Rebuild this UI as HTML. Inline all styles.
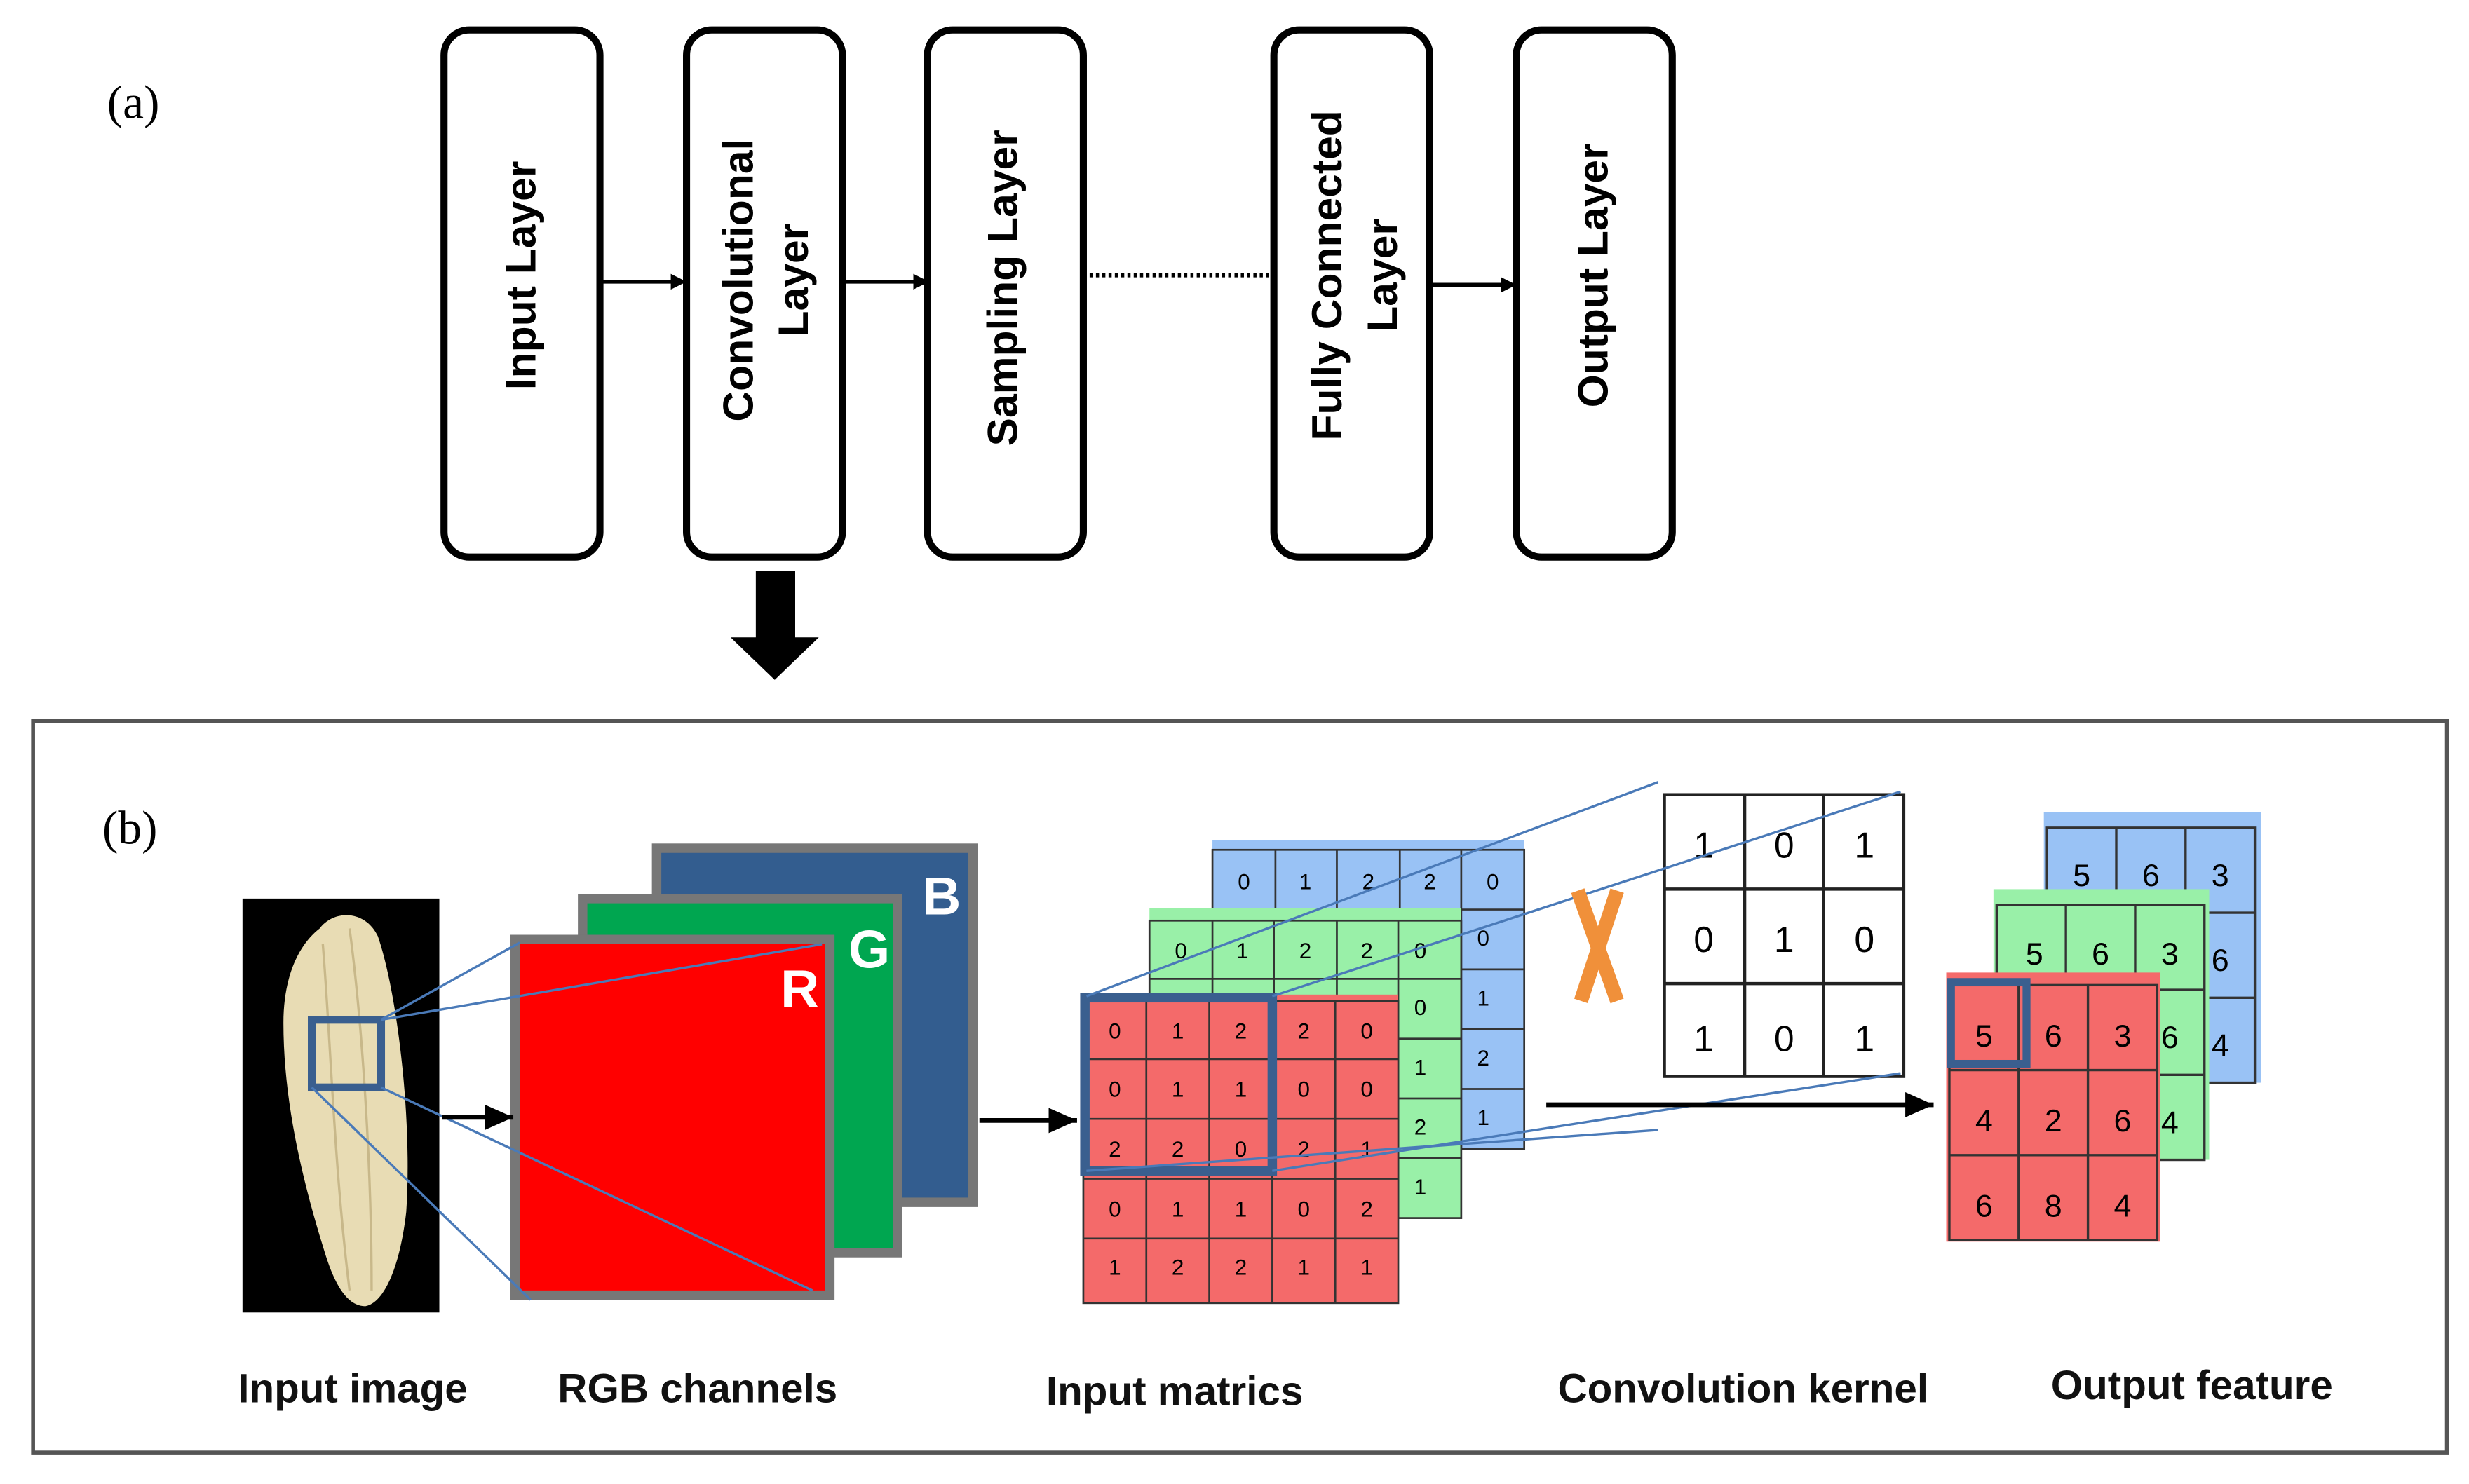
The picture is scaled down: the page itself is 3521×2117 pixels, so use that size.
<!DOCTYPE html>
<html><head><meta charset="utf-8"><style>
html,body{margin:0;padding:0;background:#fff;}
svg{display:block;}
</style></head><body>
<svg width="3521" height="2117" viewBox="0 0 1568 943" preserveAspectRatio="none" xmlns="http://www.w3.org/2000/svg">
<defs>
<marker id="ah" markerWidth="10" markerHeight="10" refX="9" refY="5" orient="auto" markerUnits="userSpaceOnUse"><path d="M0,0 L10,5 L0,10 Z" fill="#000"/></marker>
<marker id="ah2" markerWidth="20" markerHeight="20" refX="18" refY="10" orient="auto" markerUnits="userSpaceOnUse"><path d="M0,2 L18,10 L0,18 Z" fill="#000"/></marker>
</defs>
<rect width="1568" height="943" fill="#fff"/>
<text x="68" y="75" font-family="Liberation Serif, serif" font-size="30">(a)</text>
<g fill="#fff" stroke="#000" stroke-width="4.5">
<rect x="282" y="19" width="99" height="335" rx="16"/>
<rect x="436" y="19" width="99" height="335" rx="16"/>
<rect x="589" y="19" width="99" height="335" rx="16"/>
<rect x="809" y="19" width="99" height="335" rx="16"/>
<rect x="963" y="19" width="99" height="335" rx="16"/>
</g>
<g font-family="Liberation Sans, sans-serif" font-weight="bold" font-size="27" text-anchor="middle" fill="#000">
<text transform="translate(340,175) rotate(-90)">Input Layer</text>
<text transform="translate(478,178) rotate(-90)">Convolutional</text>
<text transform="translate(513,178) rotate(-90)">Layer</text>
<text transform="translate(646,183) rotate(-90)">Sampling Layer</text>
<text transform="translate(852,175) rotate(-90)">Fully Connected</text>
<text transform="translate(887,175) rotate(-90)">Layer</text>
<text transform="translate(1021,175) rotate(-90)">Output Layer</text>
</g>
<g stroke="#000" stroke-width="2.5">
<line x1="383" y1="179" x2="435" y2="179" marker-end="url(#ah)"/>
<line x1="537" y1="179" x2="589" y2="179" marker-end="url(#ah)"/>
<line x1="910" y1="181" x2="962" y2="181" marker-end="url(#ah)"/>
<line x1="692" y1="175" x2="806" y2="175" stroke-dasharray="2,2"/>
</g>
<path d="M480,363 H505 V405 H520 L492,432 L464,405 H480 Z" fill="#000"/>

<rect x="21" y="458" width="1533" height="465" fill="none" stroke="#555" stroke-width="2.5"/>
<text x="65" y="536" font-family="Liberation Serif, serif" font-size="30">(b)</text>

<!-- input image -->
<rect x="154" y="571" width="125" height="263" fill="#000"/>
<path d="M203,590 C212,578 232,578 240,595 C252,630 262,710 258,770 C254,805 244,828 232,830 C220,830 212,815 206,795 C192,750 180,700 180,650 C180,620 190,600 203,590 Z" fill="#e8dcb4"/>
<path d="M205,600 C210,660 212,740 222,820 M222,590 C230,650 236,740 236,820" stroke="#c8b88a" stroke-width="1.5" fill="none"/>
<rect x="198" y="648" width="44" height="43" fill="none" stroke="#3a5f8f" stroke-width="5"/>

<!-- RGB -->
<rect x="417" y="539" width="201" height="225" fill="#335d8f" stroke="#777" stroke-width="6"/>
<rect x="370" y="571" width="200" height="225" fill="#00a650" stroke="#777" stroke-width="6"/>
<rect x="327" y="597" width="200" height="226" fill="#ff0000" stroke="#777" stroke-width="6"/>
<g font-family="Liberation Sans, sans-serif" font-weight="bold" font-size="34" fill="#fff" text-anchor="middle">
<text x="598" y="581">B</text>
<text x="552" y="615">G</text>
<text x="508" y="640">R</text>
</g>
<g stroke="#4a7ab8" stroke-width="1.5">
<line x1="242" y1="648" x2="330" y2="599"/>
<line x1="242" y1="648" x2="522" y2="600"/>
<line x1="198" y1="691" x2="337" y2="826"/>
<line x1="242" y1="691" x2="516" y2="820"/>
</g>
<line x1="281" y1="710" x2="326" y2="710" stroke="#000" stroke-width="3" marker-end="url(#ah2)"/>
<line x1="622" y1="712" x2="684" y2="712" stroke="#000" stroke-width="3" marker-end="url(#ah2)"/>

<!-- input matrices -->
<g font-family="Liberation Sans, sans-serif" font-size="14" text-anchor="middle" fill="#000">
<g transform="translate(770,534)">
<rect width="198" height="196" fill="#99c2f5"/>
<g stroke="#333" stroke-width="1.2" fill="none">
<rect x="0" y="6" width="198" height="190"/>
<line x1="40" y1="6" x2="40" y2="196"/><line x1="79" y1="6" x2="79" y2="196"/><line x1="119" y1="6" x2="119" y2="196"/><line x1="158" y1="6" x2="158" y2="196"/>
<line x1="0" y1="44" x2="198" y2="44"/><line x1="0" y1="82" x2="198" y2="82"/><line x1="0" y1="120" x2="198" y2="120"/><line x1="0" y1="158" x2="198" y2="158"/>
</g>
<text x="20" y="31">0</text><text x="59" y="31">1</text><text x="99" y="31">2</text><text x="138" y="31">2</text><text x="178" y="31">0</text>
<text x="172" y="67">0</text><text x="172" y="105">1</text><text x="172" y="143">2</text><text x="172" y="181">1</text>
</g>
<g transform="translate(730,577)">
<rect width="198" height="197" fill="#99f0a8"/>
<g stroke="#333" stroke-width="1.2" fill="none">
<rect x="0" y="8" width="198" height="189"/>
<line x1="40" y1="8" x2="40" y2="197"/><line x1="79" y1="8" x2="79" y2="197"/><line x1="119" y1="8" x2="119" y2="197"/><line x1="158" y1="8" x2="158" y2="197"/>
<line x1="0" y1="45" x2="198" y2="45"/><line x1="0" y1="83" x2="198" y2="83"/><line x1="0" y1="121" x2="198" y2="121"/><line x1="0" y1="159" x2="198" y2="159"/>
</g>
<text x="20" y="32">0</text><text x="59" y="32">1</text><text x="99" y="32">2</text><text x="138" y="32">2</text><text x="172" y="32">0</text>
<text x="172" y="68">0</text><text x="172" y="106">1</text><text x="172" y="144">2</text><text x="172" y="182">1</text>
</g>
<g transform="translate(688,632)">
<rect width="200" height="196" fill="#f46a6a"/>
<g stroke="#333" stroke-width="1.2" fill="none">
<rect x="0" y="4" width="200" height="192"/>
<line x1="40" y1="4" x2="40" y2="196"/><line x1="80" y1="4" x2="80" y2="196"/><line x1="120" y1="4" x2="120" y2="196"/><line x1="160" y1="4" x2="160" y2="196"/>
<line x1="0" y1="41" x2="200" y2="41"/><line x1="0" y1="79" x2="200" y2="79"/><line x1="0" y1="117" x2="200" y2="117"/><line x1="0" y1="155" x2="200" y2="155"/>
</g>
<g>
<text x="20" y="28">0</text><text x="60" y="28">1</text><text x="100" y="28">2</text><text x="140" y="28">2</text><text x="180" y="28">0</text>
<text x="20" y="65">0</text><text x="60" y="65">1</text><text x="100" y="65">1</text><text x="140" y="65">0</text><text x="180" y="65">0</text>
<text x="20" y="103">2</text><text x="60" y="103">2</text><text x="100" y="103">0</text><text x="140" y="103">2</text><text x="180" y="103">1</text>
<text x="20" y="141">0</text><text x="60" y="141">1</text><text x="100" y="141">1</text><text x="140" y="141">0</text><text x="180" y="141">2</text>
<text x="20" y="178">1</text><text x="60" y="178">2</text><text x="100" y="178">2</text><text x="140" y="178">1</text><text x="180" y="178">1</text>
</g>
</g>
</g>
<rect x="689" y="634" width="119" height="110" fill="none" stroke="#3a5f8f" stroke-width="6"/>

<!-- kernel -->
<g transform="translate(1057,505)">
<rect width="152" height="179" fill="#fff" stroke="#222" stroke-width="2"/>
<g stroke="#222" stroke-width="2">
<line x1="51" y1="0" x2="51" y2="179"/><line x1="101" y1="0" x2="101" y2="179"/>
<line x1="0" y1="60" x2="152" y2="60"/><line x1="0" y1="120" x2="152" y2="120"/>
</g>
<g font-family="Liberation Sans, sans-serif" font-size="23" text-anchor="middle" fill="#000">
<text x="25" y="40">1</text><text x="76" y="40">0</text><text x="127" y="40">1</text>
<text x="25" y="100">0</text><text x="76" y="100">1</text><text x="127" y="100">0</text>
<text x="25" y="163">1</text><text x="76" y="163">0</text><text x="127" y="163">1</text>
</g>
</g>
<g stroke="#4a7ab8" stroke-width="1.5">
<line x1="690" y1="633" x2="1053" y2="497"/>
<line x1="808" y1="633" x2="1207" y2="503"/>
<line x1="690" y1="744" x2="1053" y2="718"/>
<line x1="808" y1="744" x2="1207" y2="682"/>
</g>
<g stroke="#f0903a" stroke-width="9" stroke-linecap="butt">
<line x1="1002" y1="566" x2="1027" y2="636"/>
<line x1="1027" y1="566" x2="1004" y2="636"/>
</g>
<line x1="982" y1="702" x2="1228" y2="702" stroke="#000" stroke-width="3" marker-end="url(#ah2)"/>

<!-- output -->
<g font-family="Liberation Sans, sans-serif" font-size="20" text-anchor="middle" fill="#000">
<g transform="translate(1298,516)">
<rect width="138" height="172" fill="#99c2f5"/>
<g stroke="#333" stroke-width="1.5" fill="none">
<rect x="2" y="10" width="132" height="162"/>
<line x1="46" y1="10" x2="46" y2="172"/><line x1="90" y1="10" x2="90" y2="172"/>
<line x1="2" y1="64" x2="134" y2="64"/><line x1="2" y1="118" x2="134" y2="118"/>
</g>
<text x="24" y="47">5</text><text x="68" y="47">6</text><text x="112" y="47">3</text>
<text x="112" y="101">6</text><text x="112" y="155">4</text>
</g>
<g transform="translate(1266,565)">
<rect width="137" height="172" fill="#99f0a8"/>
<g stroke="#333" stroke-width="1.5" fill="none">
<rect x="2" y="10" width="132" height="162"/>
<line x1="46" y1="10" x2="46" y2="172"/><line x1="90" y1="10" x2="90" y2="172"/>
<line x1="2" y1="64" x2="134" y2="64"/><line x1="2" y1="118" x2="134" y2="118"/>
</g>
<text x="26" y="48">5</text><text x="68" y="48">6</text><text x="112" y="48">3</text>
<text x="112" y="101">6</text><text x="112" y="155">4</text>
</g>
<g transform="translate(1236,618)">
<rect width="136" height="171" fill="#f46a6a"/>
<g stroke="#333" stroke-width="1.5" fill="none">
<rect x="2" y="8" width="132" height="162"/>
<line x1="46" y1="8" x2="46" y2="170"/><line x1="90" y1="8" x2="90" y2="170"/>
<line x1="2" y1="62" x2="134" y2="62"/><line x1="2" y1="116" x2="134" y2="116"/>
</g>
<text x="24" y="47">5</text><text x="68" y="47">6</text><text x="112" y="47">3</text>
<text x="24" y="101">4</text><text x="68" y="101">2</text><text x="112" y="101">6</text>
<text x="24" y="155">6</text><text x="68" y="155">8</text><text x="112" y="155">4</text>
</g>
</g>
<rect x="1239" y="624" width="48" height="52" fill="none" stroke="#3a5f8f" stroke-width="5"/>

<g font-family="Liberation Sans, sans-serif" font-weight="bold" font-size="26" text-anchor="middle" fill="#111">
<text x="224" y="891">Input image</text>
<text x="443" y="891">RGB channels</text>
<text x="746" y="893">Input matrics</text>
<text x="1107" y="891">Convolution kernel</text>
<text x="1392" y="889">Output feature</text>
</g>
</svg>
</body></html>
